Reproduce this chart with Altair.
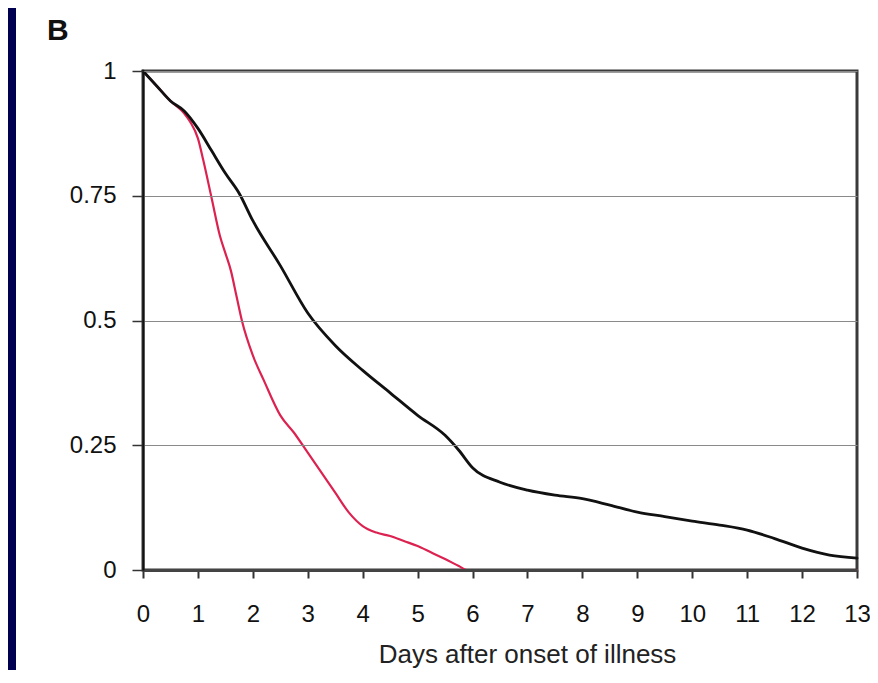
import altair as alt
import pandas as pd

# Survival-type curves: proportion vs days after onset of illness
black_days = [0, 0.25, 0.5, 0.75, 1.0, 1.25, 1.5, 1.75, 2.0, 2.5, 3.0, 3.5, 4.0, 4.5,
              5.0, 5.5, 5.75, 6.0, 6.5, 7.0, 7.5, 8.0, 8.5, 9.0, 9.5, 10.0, 10.5,
              11.0, 11.5, 12.0, 12.5, 13.0]
black_vals = [1.0, 0.97, 0.94, 0.92, 0.885, 0.84, 0.795, 0.755, 0.70, 0.61, 0.515, 0.45,
              0.40, 0.355, 0.31, 0.27, 0.24, 0.205, 0.176, 0.16, 0.15, 0.143, 0.13,
              0.116, 0.107, 0.098, 0.09, 0.08, 0.063, 0.044, 0.03, 0.024]

red_days = [0, 0.25, 0.5, 0.75, 0.86, 1.0, 1.1, 1.25, 1.4, 1.5, 1.6, 1.7, 1.8, 2.0, 2.2,
            2.5, 2.75, 3.0, 3.25, 3.5, 3.75, 4.0, 4.25, 4.5, 4.75, 5.0, 5.25, 5.5,
            5.75, 5.9, 13.0]
red_vals = [1.0, 0.97, 0.94, 0.915, 0.898, 0.865, 0.82, 0.745, 0.67, 0.635, 0.6, 0.55,
            0.5, 0.43, 0.38, 0.31, 0.275, 0.235, 0.195, 0.155, 0.115, 0.088, 0.075,
            0.068, 0.058, 0.048, 0.035, 0.022, 0.008, 0.0, 0.0]

x_ticks = list(range(0, 14))
y_ticks = [0, 0.25, 0.5, 0.75, 1]
y_labels = {"0": "0", "0.25": "0.25", "0.5": "0.5", "0.75": "0.75", "1": "1"}

df = pd.concat([
    pd.DataFrame({"day": red_days, "value": red_vals, "series": "red"}),
    pd.DataFrame({"day": black_days, "value": black_vals, "series": "black"}),
])

FONT = "Liberation Sans"

x_enc = alt.X("day:Q",
              scale=alt.Scale(domain=[0, 13], nice=False, zero=False),
              axis=alt.Axis(values=x_ticks, format="d", labelFlush=False,
                            title="Days after onset of illness",
                            titleFont=FONT, titleFontSize=26, titleFontWeight="normal",
                            titleColor="#222", titleAlign="center",
                            titleBaseline="alphabetic", titleX=384, titleY=92,
                            labelFont=FONT, labelFontSize=24, labelColor="#111",
                            labelPadding=24, tickSize=8, tickColor="#333",
                            tickWidth=2, domainColor="#444", domainWidth=3,
                            grid=False, zindex=1))
y_enc = alt.Y("value:Q",
              scale=alt.Scale(domain=[0, 1], nice=False),
              axis=alt.Axis(values=y_ticks, title=None,
                            labelExpr="datum.value == 0 ? '0' : datum.value == 1 ? '1' : format(datum.value, '.2~f')",
                            labelFont=FONT, labelFontSize=24, labelColor="#111",
                            labelPadding=16, tickSize=11, tickColor="#333",
                            tickWidth=1.5, domainColor="#111", domainWidth=2,
                            grid=True, gridColor="#8a8a8a", gridWidth=1,
                            zindex=1))

lines = alt.Chart(df).mark_line(interpolate="monotone", strokeCap="round").encode(
    x=x_enc,
    y=y_enc,
    color=alt.Color("series:N",
                    scale=alt.Scale(domain=["red", "black"], range=["#dc2250", "#111111"]),
                    legend=None),
    strokeWidth=alt.StrokeWidth("series:N",
                                scale=alt.Scale(domain=["red", "black"], range=[2.2, 2.8]),
                                legend=None),
    order=alt.Order("day:Q"),
)

# navy frame strip at the left edge
frame = alt.Chart(pd.DataFrame({"k": [0]})).mark_rect(color="#000050").encode(
    x=alt.value(-135), x2=alt.value(-127), y=alt.value(-70), y2=alt.value(620)
)

panel_label = alt.Chart(pd.DataFrame({"label": ["B"]})).mark_text(
    font=FONT, fontSize=30, fontWeight="bold", color="#111", align="left",
    baseline="alphabetic"
).encode(x=alt.value(-96), y=alt.value(-31), text="label:N")

chart = alt.layer(frame, lines, panel_label).properties(
    width=714, height=499,
    autosize=alt.AutoSizeParams(type="none"),
    padding={"left": 135, "top": 63, "right": 13, "bottom": 100},
    background="white",
).configure_view(stroke="#3a3a3a", strokeWidth=3)

chart.save("out.html", embed_options={"renderer": "svg", "actions": False})
